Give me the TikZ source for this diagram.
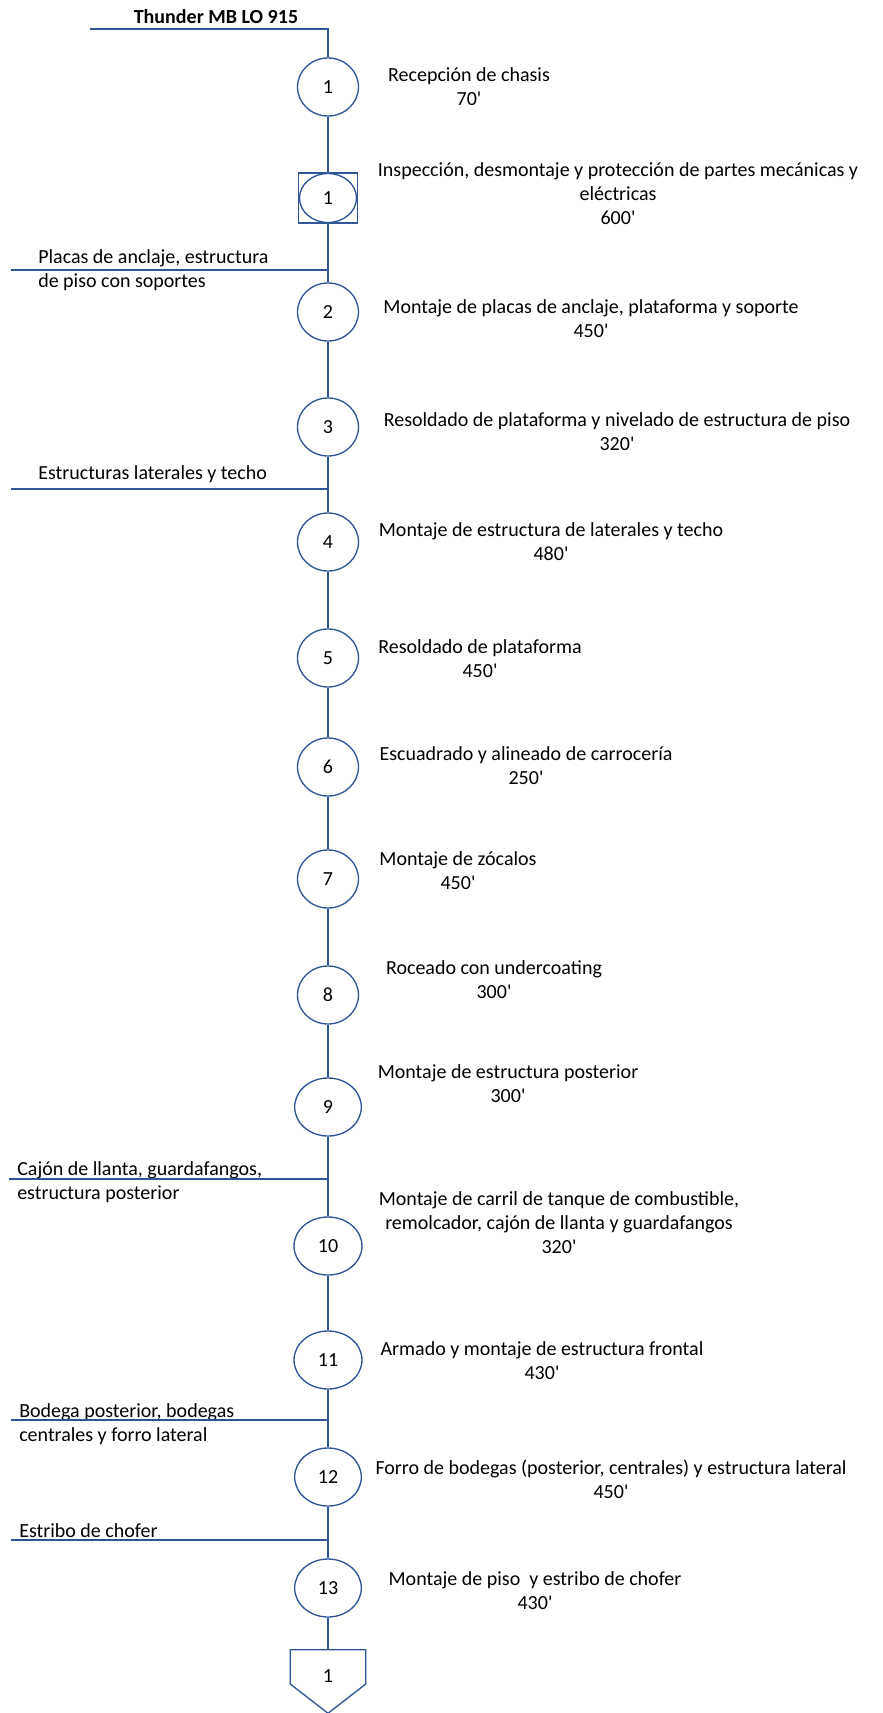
\documentclass[tikz,border=0pt]{standalone}
\usepackage{fontspec}
\newfontfamily\carlito{Carlito}
\usetikzlibrary{shapes.geometric}

\definecolor{flowblue}{RGB}{47,85,151}
\tikzset{
  op/.style={ellipse, draw=flowblue, line width=1pt, minimum width=45.75pt, minimum height=43.5pt, inner sep=0pt},
  wideop/.style={op, minimum width=50pt},
  insp/.style={rectangle, draw=flowblue, line width=1pt, minimum width=44.25pt, minimum height=37.5pt, inner sep=0pt},
  desc/.style={align=center, inner sep=0pt},
  feed/.style={align=left, anchor=west, inner sep=0pt},
  flow/.style={draw=flowblue, line width=1pt}
}

\begin{document}
\begin{tikzpicture}[x=0.75pt, y=-0.75pt, font=\carlito\fontsize{15}{18}\selectfont]
  \useasboundingbox (0,0) rectangle (882,1713);
  \node[font=\carlito\fontsize{15}{18}\selectfont\bfseries] (title) at (216,17) {Thunder MB LO 915};

  \node[op] (o1) at (328,87) {1};
  \node[insp] (i1box) at (328,198) {};
  \node[op, minimum width=42.75pt, minimum height=36.75pt] (i1) at (328,198) {1};
  \node[op] (o2) at (328,312) {2};
  \node[op] (o3) at (328,427) {3};
  \node[op] (o4) at (328,542) {4};
  \node[op] (o5) at (328,658) {5};
  \node[op] (o6) at (328,767) {6};
  \node[op] (o7) at (328,879) {7};
  \node[op] (o8) at (328,995) {8};
  \node[wideop] (o9) at (328,1107) {9};
  \node[wideop, minimum width=51pt] (o10) at (328,1246) {10};
  \node[wideop, minimum width=51pt] (o11) at (328,1360) {11};
  \node[wideop] (o12) at (328,1477) {12};
  \node[wideop] (o13) at (328,1588) {13};
  \node[inner sep=0pt, minimum width=56.25pt, minimum height=39pt] (fin) at (328,1676) {1};

  \node[desc] (d1) at (469,87) {Recepción de chasis\\70'};
  \node[desc] (di1) at (618,194) {Inspección, desmontaje y protección de partes mecánicas y\\eléctricas\\600'};
  \node[desc] (d2) at (591,319) {Montaje de placas de anclaje, plataforma y soporte\\450'};
  \node[desc] (d3) at (617,432) {Resoldado de plataforma y nivelado de estructura de piso\\320'};
  \node[desc] (d4) at (551,542) {Montaje de estructura de laterales y techo\\480'};
  \node[desc] (d5) at (480,659) {Resoldado de plataforma\\450'};
  \node[desc] (d6) at (526,766) {Escuadrado y alineado de carrocería\\250'};
  \node[desc] (d7) at (458,871) {Montaje de zócalos\\450'};
  \node[desc] (d8) at (494,980) {Roceado con undercoating\\300'};
  \node[desc] (d9) at (508,1084) {Montaje de estructura posterior\\300'};
  \node[desc] (d10) at (559,1223) {Montaje de carril de tanque de combustible,\\remolcador, cajón de llanta y guardafangos\\320'};
  \node[desc] (d11) at (542,1361) {Armado y montaje de estructura frontal\\430'};
  \node[desc] (d12) at (611,1479) {Forro de bodegas (posterior, centrales) y estructura lateral\\450'};
  \node[desc] (d13) at (535,1591) {Montaje de piso~ y estribo de chofer\\430'};

  \node[feed] (p2) at (38,270) {Placas de anclaje, estructura\\de piso con soportes};
  \node[feed] (p4) at (38,474) {Estructuras laterales y techo};
  \node[feed] (p10) at (17,1182) {Cajón de llanta, guardafangos,\\estructura posterior};
  \node[feed] (p12) at (19,1424) {Bodega posterior, bodegas\\centrales y forro lateral};
  \node[feed] (p13) at (19,1531) {Estribo de chofer};

  \coordinate (start) at (90,29);
  \coordinate (f2) at (11,270);
  \coordinate (f4) at (11,489);
  \coordinate (f10) at (9,1179);
  \coordinate (f12) at (11,1420);
  \coordinate (f13) at (11,1540);

  \draw[flow] (start) -- (start -| o1) -- (o1);
  \draw[flow] (o1) -- (i1box) -- (o2) -- (o3) -- (o4) -- (o5) -- (o6) -- (o7) -- (o8) -- (o9) -- (o10) -- (o11) -- (o12) -- (o13) -- (fin);
  \draw[flow] (f2) -- (f2 -| o1);
  \draw[flow] (f4) -- (f4 -| o1);
  \draw[flow] (f10) -- (f10 -| o1);
  \draw[flow] (f12) -- (f12 -| o1);
  \draw[flow] (f13) -- (f13 -| o1);
  \draw[flow] (fin.north west) -- (fin.north east) -- ([yshift=-6pt]fin.east) -- ([yshift=-8.25pt]fin.south) -- ([yshift=-6pt]fin.west) -- cycle;
\end{tikzpicture}
\end{document}
